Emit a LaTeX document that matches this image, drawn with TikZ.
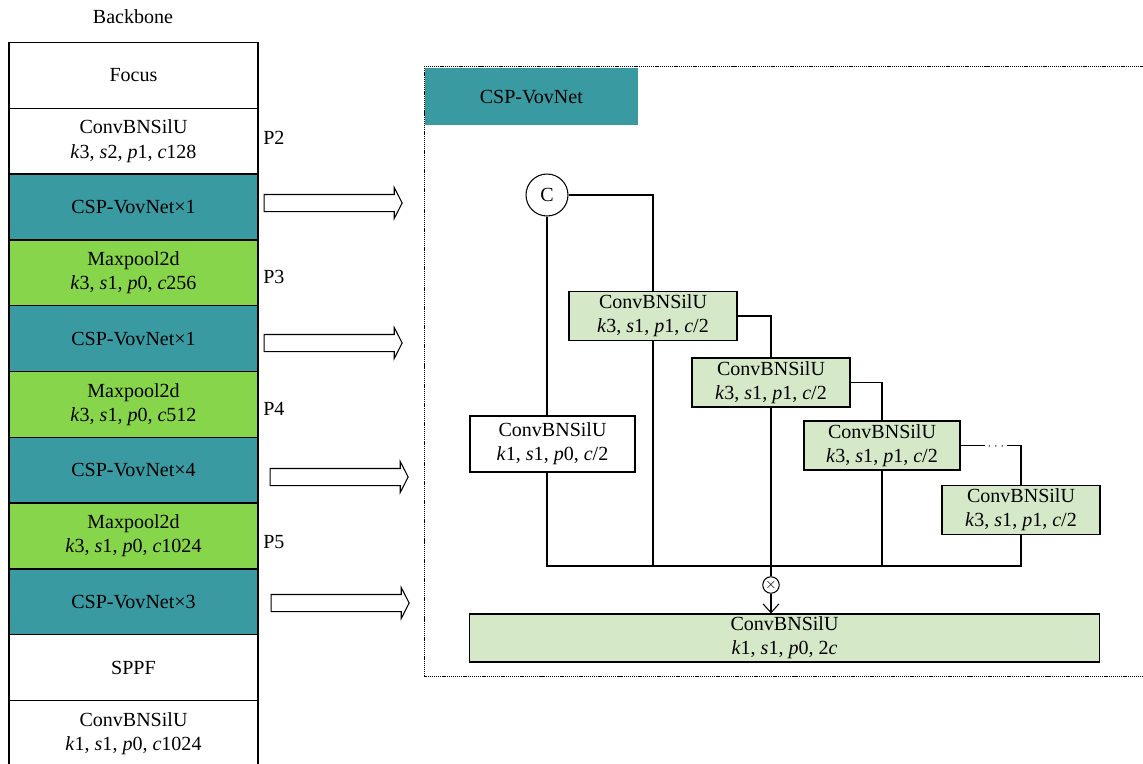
\documentclass[tikz,border=0pt]{standalone}
\usepackage{fontspec}
\setmainfont{Liberation Serif}
\usetikzlibrary{shapes, arrows.meta, positioning, calc}
\definecolor{vovteal}{RGB}{58,154,161}
\definecolor{poolgreen}{RGB}{135,213,74}
\definecolor{convgreen}{RGB}{213,232,200}
\newcommand{\kspc}[4]{\textit{k}#1, \textit{s}#2, \textit{p}#3, \textit{c}#4}

\begin{document}
\begin{tikzpicture}[x=0.02cm, y=-0.02cm,
  every node/.style={font=\fontsize{11.4}{13.7}\selectfont},
  layer/.style={draw, line width=0.8pt, outer sep=0pt, inner sep=0pt, align=center,
    minimum width=4.98cm, minimum height=1.316cm},
  cspbox/.style={layer, fill=vovteal},
  poolbox/.style={layer, fill=poolgreen},
  cbs/.style={draw, line width=0.6pt, fill=convgreen, align=center, inner sep=0pt,
    minimum width=3.16cm, minimum height=0.98cm},
  fatarrow/.style={draw, line width=0.6pt, single arrow, inner xsep=0pt, inner ysep=0.16cm,
    single arrow head extend=0.14cm,
    single arrow tip angle=126, minimum height=2.76cm},
  plabel/.style={anchor=west, inner sep=0pt},
  wire/.style={line width=0.6pt}
]
\useasboundingbox (0,0) rectangle (1143,764);

% backbone column
\node (backbone) at (133,17) {Backbone};
\node[layer] (focus) at (133.5,75.4) {Focus};
\node[layer, below=0pt of focus] (stem) {ConvBNSilU\\\kspc{3}{2}{1}{128}};
\node[cspbox, below=0pt of stem] (csp1) {CSP-VovNet×1};
\node[poolbox, below=0pt of csp1] (pool1) {Maxpool2d\\\kspc{3}{1}{0}{256}};
\node[cspbox, below=0pt of pool1] (csp2) {CSP-VovNet×1};
\node[poolbox, below=0pt of csp2] (pool2) {Maxpool2d\\\kspc{3}{1}{0}{512}};
\node[cspbox, below=0pt of pool2] (csp3) {CSP-VovNet×4};
\node[poolbox, below=0pt of csp3] (pool3) {Maxpool2d\\\kspc{3}{1}{0}{1024}};
\node[cspbox, below=0pt of pool3] (csp4) {CSP-VovNet×3};
\node[layer, below=0pt of csp4] (sppf) {SPPF};
\node[layer, below=0pt of sppf] (neck) {ConvBNSilU\\\kspc{1}{1}{0}{1024}};

\node[plabel] (p2) at (263,138) {P2};
\node[plabel] (p3) at (263,277) {P3};
\node[plabel] (p4) at (263,409) {P4};
\node[plabel] (p5) at (263,542) {P5};

\node[fatarrow] (arr1) at (331,203) {};
\node[fatarrow] (arr2) at (331,343) {};
\node[fatarrow] (arr3) at (337,477) {};
\node[fatarrow] (arr4) at (338,603) {};

% CSP-VovNet detail
\draw[line width=0.5pt, dash pattern=on 0.7pt off 0.5pt] (424,66) rectangle (1170,676);
\node[fill=vovteal, minimum width=4.26cm, minimum height=1.14cm, anchor=north west] (title) at (424.5,68) {CSP-VovNet};

\node[draw, circle, wire, inner sep=0pt, minimum size=0.84cm] (cat) at (547,195) {C};
\node[cbs, minimum width=3.36cm] (cb1) at (653,316) {ConvBNSilU\\\kspc{3}{1}{1}{/2}};
\node[cbs] (cb2) at (771,382.5) {ConvBNSilU\\\kspc{3}{1}{1}{/2}};
\node[cbs, minimum width=3.12cm] (cb3) at (882,445.5) {ConvBNSilU\\\kspc{3}{1}{1}{/2}};
\node[cbs] (cb4) at (1021,510) {ConvBNSilU\\\kspc{3}{1}{1}{/2}};
\node[cbs, fill=white, minimum width=3.3cm, minimum height=1.12cm] (cb0) at (552.5,444) {ConvBNSilU\\\kspc{1}{1}{0}{/2}};
\node[cbs, minimum width=12.62cm, minimum height=0.96cm] (cbout) at (784.5,638) {ConvBNSilU\\\textit{k}1, \textit{s}1, \textit{p}0, 2\textit{c}};
\node[draw, circle, wire, inner sep=0pt, minimum size=0.33cm, font=\fontsize{8}{8}\selectfont] (mul) at (771,585) {$\times$};
\node[inner sep=1pt, anchor=base, font=\fontsize{7}{7}\selectfont] (dots) at (996,449) {$\cdots$};
\coordinate (bus) at (0,566);

\draw[wire] (cat.east) -| (cb1.north);
\draw[wire] (cat.south) -- (cat.south |- cb0.north);
\draw[wire] (cb1.east) -| (cb2.north);
\draw[wire] (cb2.east) -| (cb3.north);
\draw[wire] (cb3.east) -- (cb3.east -| dots.west);
\draw[wire] (cb3.east -| dots.east) -| (cb4.north);
\draw[wire] (cat.south |- cb0.south) -- (cat.south |- bus) -- (cb4.south |- bus) -- (cb4.south);
\draw[wire] (cb1.south) -- (cb1.south |- bus);
\draw[wire] (cb3.south) -- (cb3.south |- bus);
\draw[wire] (cb2.south) -- (mul.north);
\draw[wire, -{Straight Barb[length=5pt, width=9pt]}] (mul.south) -- (mul.south |- cbout.north);
\end{tikzpicture}
\end{document}
